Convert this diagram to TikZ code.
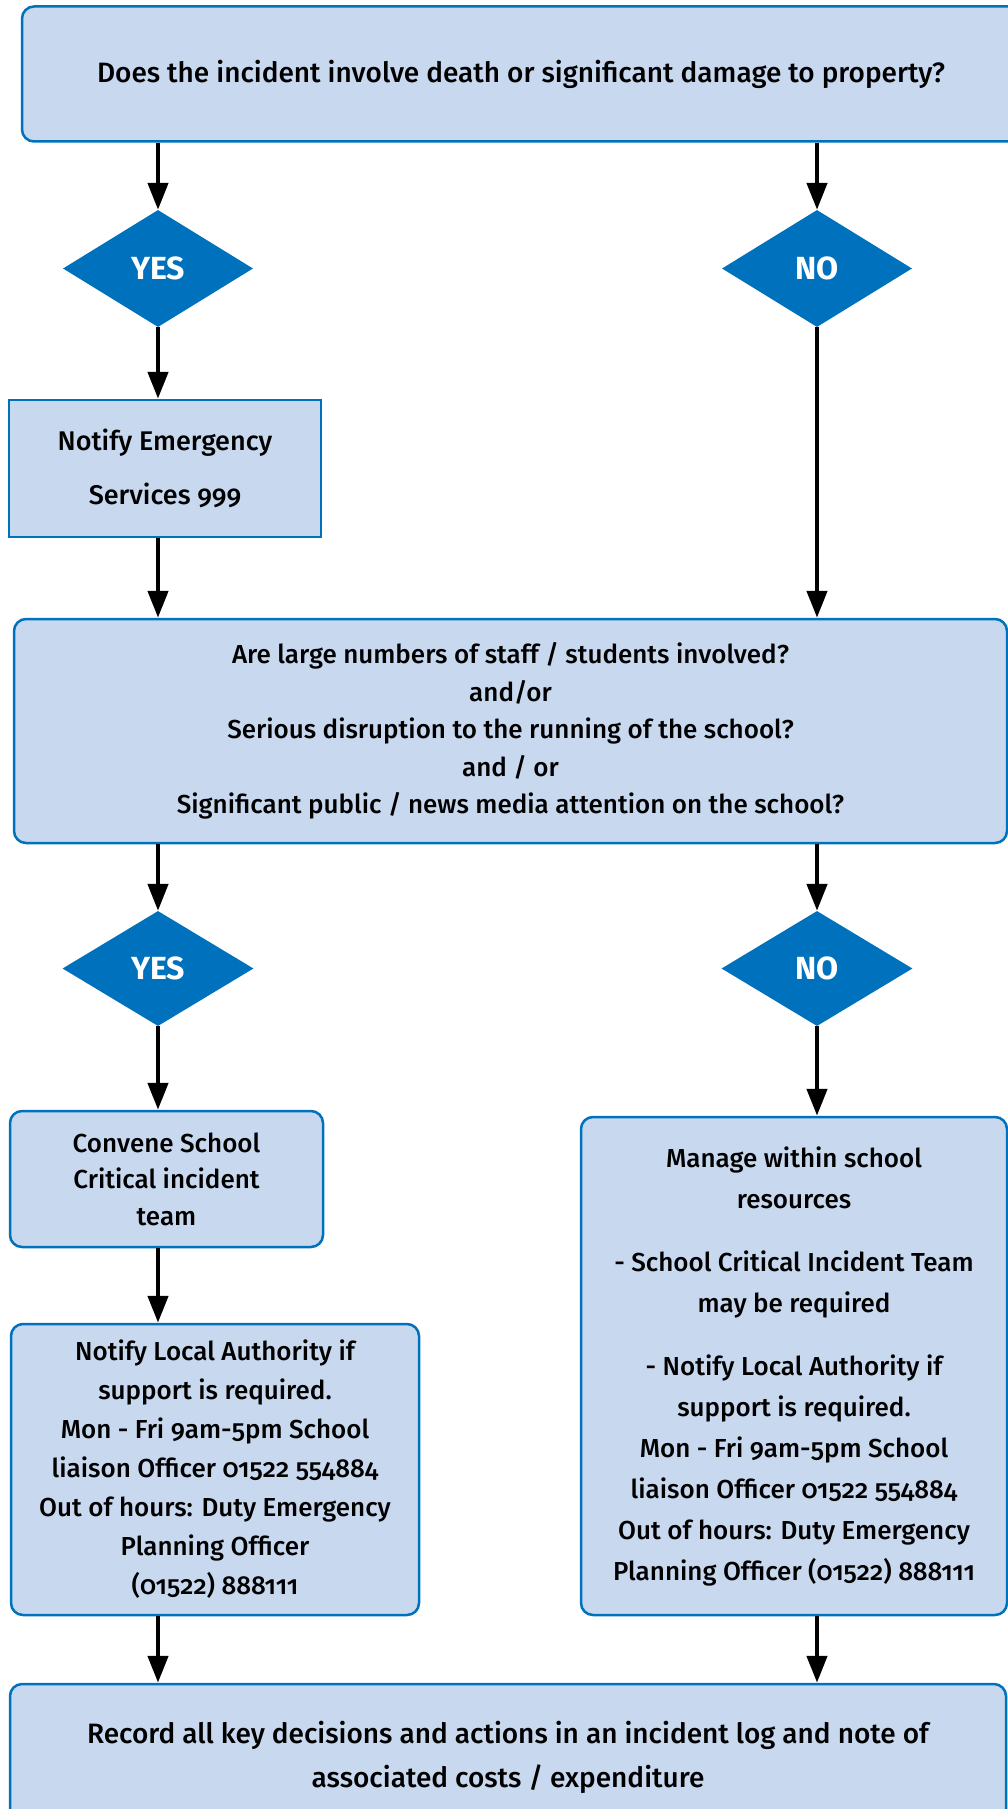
\documentclass[tikz,border=0pt]{standalone}
\usepackage{fontspec}
\setmainfont{Fira Sans}[UprightFont={* Medium}, BoldFont={* Bold}, Numbers=OldStyle]
\usetikzlibrary{arrows.meta,shapes.geometric}

\definecolor{boxfill}{HTML}{C8D8EF}
\definecolor{edgeblue}{HTML}{0071BC}

\tikzset{
  stepbox/.style={rectangle, fill=boxfill, draw=edgeblue, line width=2.5pt,
    align=center, inner sep=0pt, font=\fontsize{26}{39}\selectfont},
  roundbox/.style={stepbox, rounded corners=12pt},
  choice/.style={diamond, fill=edgeblue, inner sep=0pt, text=white,
    font=\fontsize{32}{32}\selectfont\bfseries},
  flow/.style={-{Triangle[length=27pt,width=20pt]}, line width=4.5pt}
}

\begin{document}
\begin{tikzpicture}[x=1pt, y=-1pt]
	\useasboundingbox (0,0) rectangle (1008,1809);
	\clip (0,0) rectangle (1008,1809);
	% questions and actions
	\node[roundbox, minimum width=998pt, minimum height=135pt, font=\fontsize{28}{39}\selectfont](top) at (521,74){Does the incident involve death or significant damage to property?};
	\node[choice, minimum width=190pt, minimum height=117pt](yes1) at (158,268.5){YES};
	\node[choice, minimum width=190pt, minimum height=117pt](no1) at (817,268.5){NO};
	\node[stepbox, minimum width=312pt, minimum height=137pt, font=\fontsize{27}{54}\selectfont](notify) at (165,468.5){Notify Emergency\\Services 999};
	\node[roundbox, minimum width=993pt, minimum height=224pt, font=\fontsize{26}{37.5}\selectfont](query) at (510.5,731){Are large numbers of staff / students involved?\\and/or\\Serious disruption to the running of the school?\\and / or\\Significant public / news media attention on the school?};
	\node[choice, minimum width=191pt, minimum height=115pt](yes2) at (158,968.5){YES};
	\node[choice, minimum width=191pt, minimum height=115pt](no2) at (817,968.5){NO};
	\node[roundbox, minimum width=313pt, minimum height=136pt, font=\fontsize{26}{36.5}\selectfont](convene) at (166.5,1179){Convene School\\Critical incident\\team};
	\node[roundbox, minimum width=408pt, minimum height=291pt](contact) at (215,1469.5){Notify Local Authority if\\support is required.\\Mon - Fri 9am-5pm School\\liaison Officer 01522 554884\\Out of hours: Duty Emergency\\Planning Officer\\(01522) 888111};
	\node[roundbox, minimum width=426pt, minimum height=498pt, font=\fontsize{26}{41}\selectfont](manage) at (794,1366){Manage within school\\resources\\[22pt]- School Critical Incident Team\\may be required\\[22pt]- Notify Local Authority if\\support is required.\\Mon - Fri 9am-5pm School\\liaison Officer 01522 554884\\Out of hours: Duty Emergency\\Planning Officer (01522) 888111};
	\node[roundbox, minimum width=996pt, minimum height=147pt, font=\fontsize{28}{44}\selectfont](record) at (508,1757.5){Record all key decisions and actions in an incident log and note of\\associated costs / expenditure};
	% connectors
	\draw[flow] (top.south -| yes1) -- (yes1.north);
	\draw[flow] (top.south -| no1) -- (no1.north);
	\draw[flow] (yes1.south) -- (yes1.south |- notify.north);
	\draw[flow] (no1.south) -- (no1.south |- query.north);
	\draw[flow] (notify.south -| yes1) -- (query.north -| yes1);
	\draw[flow] (query.south -| yes2) -- (yes2.north);
	\draw[flow] (query.south -| no2) -- (no2.north);
	\draw[flow] (yes2.south) -- (convene.north -| yes2);
	\draw[flow] (no2.south) -- (manage.north -| no2);
	\draw[flow] (convene.south -| yes2) -- (contact.north -| yes2);
	\draw[flow] (contact.south -| yes2) -- (record.north -| yes2);
	\draw[flow] (manage.south -| no2) -- (record.north -| no2);
\end{tikzpicture}
\end{document}
